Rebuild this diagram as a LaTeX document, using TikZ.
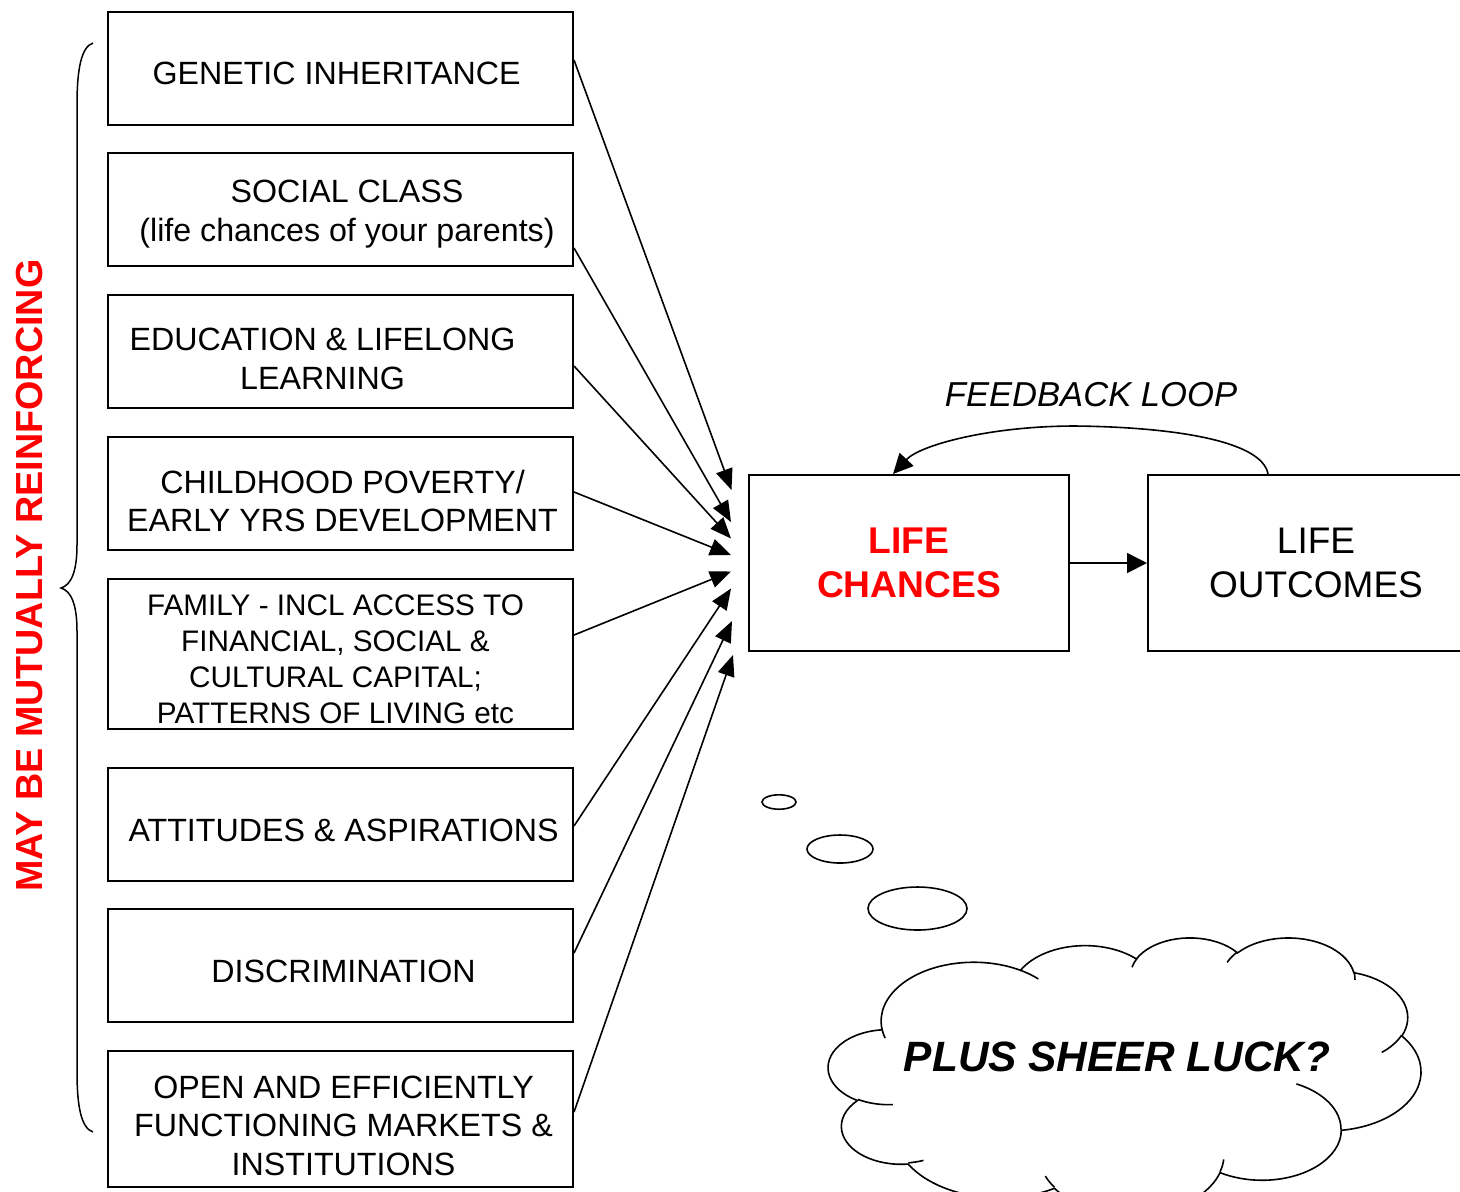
\documentclass[tikz,border=0pt]{standalone}
\usepackage{fontspec}
\setmainfont{Liberation Sans}
\usetikzlibrary{arrows.meta}
\definecolor{lcred}{RGB}{255,0,0}
% convert an OOXML arcTo (visual angles) to parametric TikZ angles
\newcommand\oarc[4]{%
  \pgfmathsetmacro\oarcA{atan2((#1)*sin(#3),(#2)*cos(#3))}%
  \pgfmathsetmacro\oarcB{atan2((#1)*sin((#3)+(#4)),(#2)*cos((#3)+(#4)))}%
  \pgfmathsetmacro\oarcC{(#4)+mod(\oarcB-\oarcA-(#4)+540,360)-180}%
  \global\let\ots\oarcA\global\let\odt\oarcC}
\newcommand\carc[4]{\pgfextra{\oarc{#1}{#2}{#3}{#4}} arc[start angle=\ots, delta angle=\odt, x radius=#1, y radius=#2]}
\begin{document}
\begin{tikzpicture}[x=0.5pt,y=-0.5pt,
  box/.style={draw, line width=1pt, minimum width=232.5pt, inner sep=0pt},
  boxtext/.style={inner sep=0pt, align=center, font=\fontsize{16.1pt}{19.25pt}\selectfont},
  bigbox/.style={draw, line width=1pt, inner sep=0pt, minimum height=88pt, align=center,
    font=\fontsize{18.5pt}{22pt}\selectfont},
  feed/.style={line width=0.8pt, -{Triangle[length=10.5pt,width=8.5pt]}},
  bubble/.style={line width=0.8pt},
  cloudline/.style={line width=0.8pt}
]
\useasboundingbox (0,0) rectangle (1460,1191);

% left boxes
\node[box, minimum height=56.5pt] (b1) at (340.5,68.5) {};
\node[box, minimum height=56.5pt] (b2) at (340.5,209.5) {};
\node[box, minimum height=56.5pt] (b3) at (340.5,351.5) {};
\node[box, minimum height=56.5pt] (b4) at (340.5,493.5) {};
\node[box, minimum height=75pt]   (b5) at (340.5,654) {};
\node[box, minimum height=56.5pt] (b6) at (340.5,824.5) {};
\node[box, minimum height=56.5pt] (b7) at (340.5,965.5) {};
\node[box, minimum height=68pt]   (b8) at (340.5,1119) {};

\node[boxtext] (t1) at (336.5,73) {GENETIC INHERITANCE};
\node[boxtext] (t2) at (347,214) {SOCIAL CLASS\\(life chances of your parents)};
\node[boxtext] (t3) at (322.5,359) {EDUCATION \& LIFELONG\\LEARNING};
\node[boxtext] (t4) at (342.5,501) {CHILDHOOD POVERTY/\\EARLY YRS DEVELOPMENT};
\node[boxtext, font=\fontsize{14.85pt}{18pt}\selectfont] (t5) at (335.5,659.5)
  {FAMILY - INCL ACCESS TO\\FINANCIAL, SOCIAL \&\\CULTURAL CAPITAL;\\PATTERNS OF LIVING etc};
\node[boxtext] (t6) at (343.5,830) {ATTITUDES \& ASPIRATIONS};
\node[boxtext] (t7) at (343.5,971) {DISCRIMINATION};
\node[boxtext] (t8) at (343.5,1125.5) {OPEN AND EFFICIENTLY\\FUNCTIONING MARKETS \&\\INSTITUTIONS};

% right boxes
\node[bigbox, minimum width=160pt, text=lcred, font=\bfseries\fontsize{18.6pt}{22pt}\selectfont]
  (lc) at (909,563) {LIFE\\CHANCES};
\node[bigbox, minimum width=168pt] (lo) at (1316,563) {LIFE\\OUTCOMES};

% brace
\draw[line width=0.75pt] (93,43) .. controls (81,47) and (77,70) .. (77,105)
  -- (77,545) .. controls (77,572) and (71,585) .. (61,588)
  .. controls (71,591) and (77,604) .. (77,631)
  -- (77,1071) .. controls (77,1106) and (81,1128) .. (93,1132);
\node[text=lcred, rotate=90, inner sep=0pt, font=\bfseries\fontsize{18.86pt}{22pt}\selectfont]
  (mbr) at (30,575.5) {MAY BE MUTUALLY REINFORCING};

% input arrows
\begin{scope}[feed]
\draw ([yshift=4.25pt]b1.east)  -- ([shift={(-16.5,-73)}]lc.west);
\draw ([yshift=-19.25pt]b2.east) -- ([shift={(-17,-41)}]lc.west);
\draw ([yshift=-7.25pt]b3.east) -- ([shift={(-17,-24.5)}]lc.west);
\draw ([yshift=0.75pt]b4.east)  -- ([shift={(-17,-8)}]lc.west);
\draw ([yshift=9.5pt]b5.east)   -- ([shift={(-17,8.5)}]lc.west);
\draw ([yshift=-0.75pt]b6.east) -- ([shift={(-17,25.5)}]lc.west);
\draw ([yshift=6.25pt]b7.east)  -- ([shift={(-16,58)}]lc.west);
\draw ([yshift=3.5pt]b8.east)   -- ([shift={(-15,92)}]lc.west);
\end{scope}

% life chances -> outcomes
\draw[line width=0.8pt, -{Triangle[length=10pt,width=10pt]}] (lc.east) -- (lo.west);

% feedback loop
\draw[line width=0.8pt, -{Triangle[length=10pt,width=9.5pt]}]
  ([xshift=60.5pt]lo.north west) .. controls (1262,440) and (1170,427) .. (1075,426)
  .. controls (990,426) and (920,445) .. ([xshift=-8pt]lc.north);
\node[inner sep=0pt, font=\itshape\fontsize{17.3pt}{20pt}\selectfont] (fb) at (1091,395) {FEEDBACK LOOP};

% thought bubbles
\draw[bubble] (779,802) ellipse [x radius=17, y radius=7.2];
\draw[bubble] (840,849) ellipse [x radius=33, y radius=14];
\draw[bubble] (917.5,908.5) ellipse [x radius=49.5, y radius=21.5];

% cloud (OOXML cloud geometry, units of 100)
\begin{scope}[shift={(828.5,937)}, xscale=1.371, yscale=0.64]
\draw[cloudline] (39.00,143.70)
  \carc{67.53}{91.90}{-190.4875}{123.7805}
  \carc{53.33}{72.67}{-144.1024}{89.9452}
  \carc{43.65}{59.45}{-145.8079}{99.7230}
  \carc{48.57}{65.95}{-130.9861}{117.2417}
  \carc{53.33}{72.73}{-78.7089}{109.0269}
  \carc{67.75}{92.20}{-46.2673}{130.2690}
  \carc{57.85}{78.67}{0.6250}{114.0333}
  \carc{67.52}{92.15}{22.4516}{115.1726}
  \carc{77.20}{105.43}{66.2426}{75.7110}
  \carc{43.60}{59.18}{-274.9421}{146.7356}
  \carc{43.45}{59.45}{-246.8285}{152.5189}
  -- cycle;
\draw[cloudline] (46.93,261.77) \carc{43.45}{59.45}{86.7420}{26.4295};
\draw[cloudline] (69.28,348.99) \carc{43.60}{59.18}{73.6105}{11.4475};
\draw[cloudline] (164.78,390.90) \carc{67.52}{92.15}{137.6242}{14.0811};
\draw[cloudline] (288.27,347.51) \carc{67.52}{92.15}{6.4533}{15.9984};
\draw[cloudline] (341.29,229.54) \carc{57.85}{78.67}{-70.2924}{70.9174};
\draw[cloudline] (417.98,153.54) \carc{53.33}{72.73}{30.3180}{27.7515};
\draw[cloudline] (383.24,54.26) \carc{48.57}{65.95}{-13.7443}{14.8589};
\draw[cloudline] (290.78,39.52) \carc{48.57}{65.95}{-149.1815}{18.1954};
\draw[cloudline] (221.41,47.20) \carc{43.65}{59.45}{-163.4943}{17.6864};
\draw[cloudline] (140.00,51.92) \carc{67.53}{91.90}{-66.7070}{12.3194};
\draw[cloudline] (41.27,157.89) \carc{67.53}{91.90}{157.6544}{11.8582};
\end{scope}
\node[inner sep=0pt, font=\bfseries\itshape\fontsize{21.2pt}{25pt}\selectfont] (luck) at (1117,1057) {PLUS SHEER LUCK?};
\end{tikzpicture}
\end{document}
